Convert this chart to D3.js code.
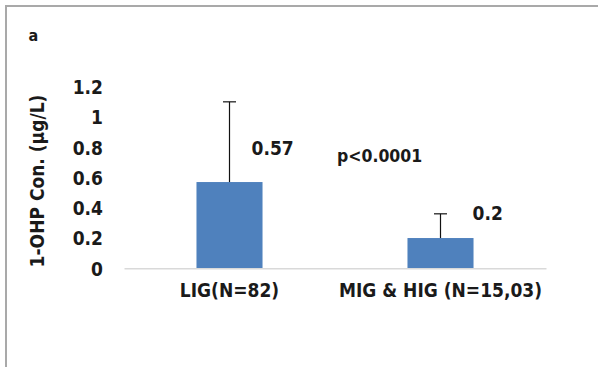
<!DOCTYPE html>
<html>
<head>
<meta charset="utf-8">
<script src="https://cdn.jsdelivr.net/npm/d3@7"></script>
<style>
  html, body { margin: 0; padding: 0; background: #fff; }
  svg { display: block; }
  text { font-family: "DejaVu Sans Condensed", "DejaVu Sans", sans-serif; font-stretch: condensed; font-weight: bold; fill: #1a1a1a; }
</style>
</head>
<body>
<script>
// ---- data ----
const categories = ["LIG(N=82)", "MIG & HIG (N=15,03)"];
const means = [0.57, 0.2];
const errUpper = [0.53, 0.16];
const valueLabels = ["0.57", "0.2"];
const yTicks = [0, 0.2, 0.4, 0.6, 0.8, 1, 1.2];
const yTitle = "1-OHP Con. (\u03bcg/L)";
const panelLabel = "a";
const pValue = "p<0.0001";

// ---- layout ----
const W = 598, H = 367;
const FONT = '"DejaVu Sans Condensed", "DejaVu Sans", sans-serif';
const FS = 19;
const svg = d3.select("body").append("svg").attr("width", W).attr("height", H);

// frame (top + left border visible)
svg.append("rect").attr("x", 6).attr("y", 6).attr("width", 800).attr("height", 600)
  .attr("fill", "none").attr("stroke", "#a9a9a9").attr("stroke-width", 2);

const x = d3.scaleBand().domain(categories).range([124, 546])
  .paddingInner(0.687).paddingOuter(0.3435);
const y = d3.scaleLinear().domain([0, 1.2]).range([268.3, 86.7]);

// y tick labels
const yAxis = d3.axisLeft(y).tickValues(yTicks).tickSize(0).tickPadding(0)
  .tickFormat(d => d3.format("~g")(d));
const gy = svg.append("g").attr("transform", "translate(103,0)").call(yAxis);
gy.select(".domain").remove();
gy.selectAll("text").attr("font-size", FS).attr("font-family", FONT)
  .attr("font-weight", "bold").attr("fill", "#1a1a1a").attr("dy", "0.36em");

// bars
svg.append("g").selectAll("rect").data(categories).join("rect")
  .attr("x", d => x(d)).attr("width", x.bandwidth())
  .attr("y", (d, i) => y(means[i])).attr("height", (d, i) => y(0) - y(means[i]))
  .attr("fill", "#4f81bd");

// x axis baseline
const xAxis = d3.axisBottom(x).tickSize(0).tickPadding(0);
const gx = svg.append("g").attr("transform", `translate(0,${y(0)})`).call(xAxis);
gx.select(".domain").attr("stroke", "#d9d9d9").attr("stroke-width", 1.5);
gx.selectAll("text").attr("font-size", FS).attr("font-family", FONT)
  .attr("font-weight", "bold").attr("fill", "#1a1a1a").attr("dy", "1.5em");

// error bars (upper only)
const eg = svg.append("g").attr("stroke", "#111").attr("stroke-width", 1.2);
categories.forEach((c, i) => {
  const cx = x(c) + x.bandwidth() / 2;
  const top = y(means[i] + errUpper[i]);
  eg.append("line").attr("x1", cx).attr("x2", cx).attr("y1", y(means[i])).attr("y2", top);
  eg.append("line").attr("x1", cx - 6.5).attr("x2", cx + 6.5).attr("y1", top).attr("y2", top);
});

// value labels (placed as in the reference)
const labelOffsets = [[22, -120.3], [32, -55.3]]; // dx from bar centre, dy from baseline
categories.forEach((c, i) => {
  const cx = x(c) + x.bandwidth() / 2;
  svg.append("text").attr("x", cx + labelOffsets[i][0]).attr("y", y(0) + labelOffsets[i][1])
    .attr("dy", "0.36em").attr("font-size", FS).text(valueLabels[i]);
});

// p-value
svg.append("text").attr("x", 337).attr("y", 156).attr("dy", "0.36em")
  .attr("font-size", 17.5).text(pValue);

// panel label
svg.append("text").attr("x", 28.5).attr("y", 35).attr("dy", "0.36em")
  .attr("font-size", 16).text(panelLabel);

// y title
svg.append("text").attr("transform", "translate(37,181) rotate(-90)")
  .attr("text-anchor", "middle").attr("dy", "0.36em")
  .attr("font-size", FS).text(yTitle);
</script>
</body>
</html>
